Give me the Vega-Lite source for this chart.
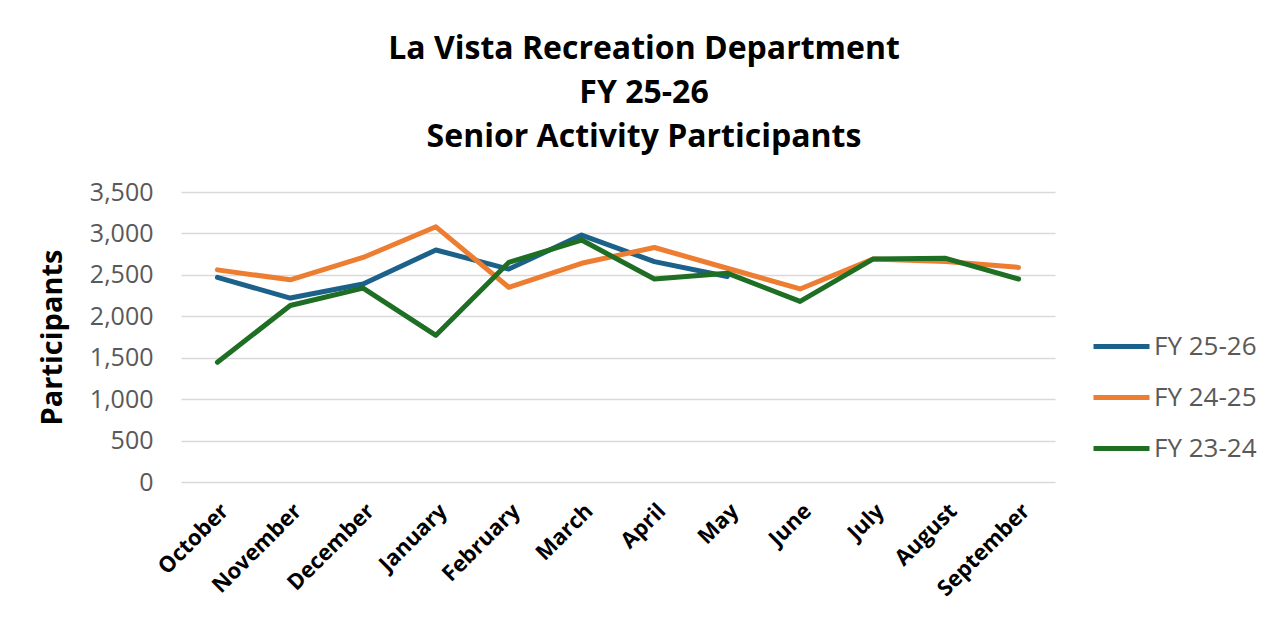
{
  "$schema": "https://vega.github.io/schema/vega-lite/v6.json",
  "width": 874,
  "height": 290,
  "autosize": {"type": "none"},
  "padding": {"left": 181, "top": 192, "right": 229, "bottom": 150},
  "background": "white",
  "title": {
    "text": ["La Vista Recreation Department", "FY 25-26", "Senior Activity Participants"],
    "font": "Open Sans",
    "fontSize": 32,
    "fontWeight": "bold",
    "color": "#000000",
    "lineHeight": 44,
    "anchor": "middle",
    "dx": 26,
    "offset": 26
  },
  "config": {
    "view": {"stroke": null},
    "font": "Open Sans"
  },
  "data": {
    "values": [
      {"month": "October", "series": "FY 25-26", "value": 2470},
      {"month": "November", "series": "FY 25-26", "value": 2220},
      {"month": "December", "series": "FY 25-26", "value": 2390},
      {"month": "January", "series": "FY 25-26", "value": 2800},
      {"month": "February", "series": "FY 25-26", "value": 2570},
      {"month": "March", "series": "FY 25-26", "value": 2980},
      {"month": "April", "series": "FY 25-26", "value": 2660},
      {"month": "May", "series": "FY 25-26", "value": 2480},
      {"month": "October", "series": "FY 24-25", "value": 2560},
      {"month": "November", "series": "FY 24-25", "value": 2440},
      {"month": "December", "series": "FY 24-25", "value": 2710},
      {"month": "January", "series": "FY 24-25", "value": 3080},
      {"month": "February", "series": "FY 24-25", "value": 2350},
      {"month": "March", "series": "FY 24-25", "value": 2640},
      {"month": "April", "series": "FY 24-25", "value": 2830},
      {"month": "May", "series": "FY 24-25", "value": 2580},
      {"month": "June", "series": "FY 24-25", "value": 2330},
      {"month": "July", "series": "FY 24-25", "value": 2690},
      {"month": "August", "series": "FY 24-25", "value": 2660},
      {"month": "September", "series": "FY 24-25", "value": 2590},
      {"month": "October", "series": "FY 23-24", "value": 1445},
      {"month": "November", "series": "FY 23-24", "value": 2130},
      {"month": "December", "series": "FY 23-24", "value": 2340},
      {"month": "January", "series": "FY 23-24", "value": 1770},
      {"month": "February", "series": "FY 23-24", "value": 2650},
      {"month": "March", "series": "FY 23-24", "value": 2920},
      {"month": "April", "series": "FY 23-24", "value": 2450},
      {"month": "May", "series": "FY 23-24", "value": 2520},
      {"month": "June", "series": "FY 23-24", "value": 2180},
      {"month": "July", "series": "FY 23-24", "value": 2690},
      {"month": "August", "series": "FY 23-24", "value": 2700},
      {"month": "September", "series": "FY 23-24", "value": 2450}
    ]
  },
  "mark": {"type": "line", "strokeWidth": 5, "strokeCap": "round", "strokeJoin": "round"},
  "encoding": {
    "x": {
      "field": "month",
      "type": "nominal",
      "sort": ["October", "November", "December", "January", "February", "March", "April", "May", "June", "July", "August", "September"],
      "scale": {"padding": 0.5},
      "axis": {
        "title": null,
        "labelAngle": -45,
        "labelFont": "Open Sans",
        "labelFontSize": 22,
        "labelFontWeight": "bold",
        "labelColor": "#000000",
        "labelPadding": 18,
        "ticks": false,
        "domain": false,
        "grid": false
      }
    },
    "y": {
      "field": "value",
      "type": "quantitative",
      "scale": {"domain": [0, 3500], "nice": false},
      "axis": {
        "title": "Participants",
        "titleFont": "Open Sans",
        "titleFontSize": 29,
        "titleFontWeight": "bold",
        "titleColor": "#000000",
        "titlePadding": 22,
        "values": [0, 500, 1000, 1500, 2000, 2500, 3000, 3500],
        "format": ",d",
        "labelFont": "Open Sans",
        "labelFontSize": 25,
        "labelColor": "#595959",
        "labelPadding": 28,
        "ticks": false,
        "domain": false,
        "grid": true,
        "gridColor": "#d9d9d9",
        "gridWidth": 1.5
      }
    },
    "color": {
      "field": "series",
      "type": "nominal",
      "sort": ["FY 25-26", "FY 24-25", "FY 23-24"],
      "scale": {"domain": ["FY 25-26", "FY 24-25", "FY 23-24"], "range": ["#1b6189", "#ed7d31", "#1e6e24"]},
      "legend": {
        "title": null,
        "orient": "none",
        "legendX": 910,
        "legendY": 124,
        "symbolType": "stroke",
        "symbolSize": 3136,
        "symbolStrokeWidth": 5,
        "labelFont": "Open Sans",
        "labelFontSize": 26,
        "labelColor": "#595959",
        "labelOffset": 2,
        "rowPadding": 7
      }
    }
  }
}
